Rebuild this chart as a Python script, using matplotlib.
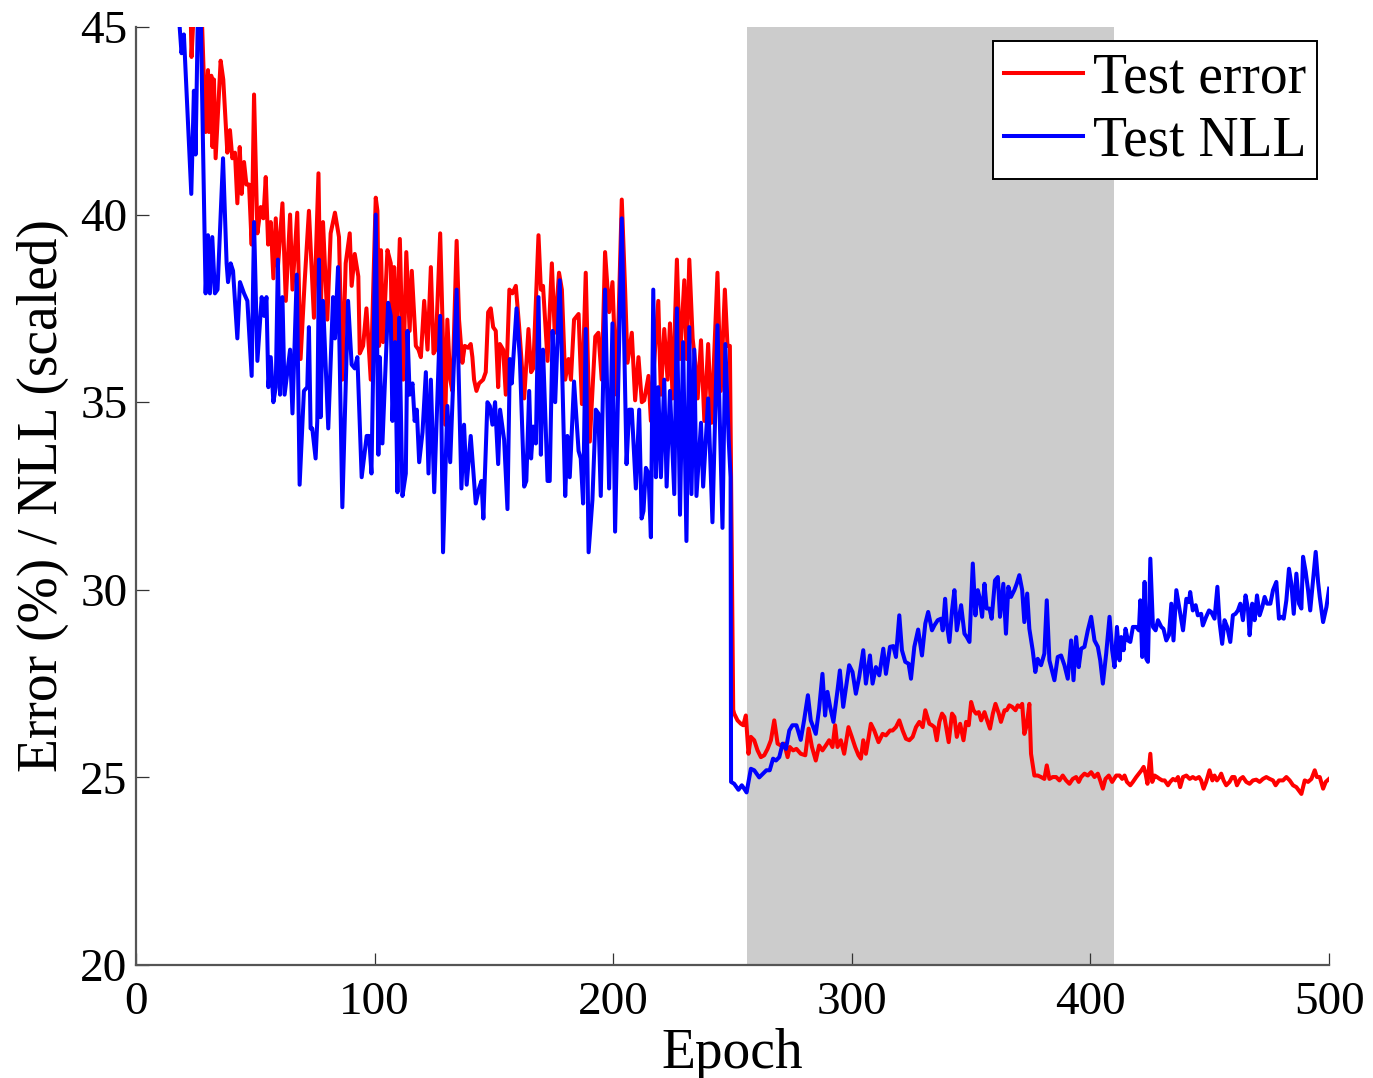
import matplotlib
matplotlib.use("Agg")
import matplotlib.pyplot as plt

# ---------------- data ----------------
err_epoch = [21.5, 22.9, 23.3, 24.3, 27.5, 29.2, 30.2, 30.6, 31.6, 32.1, 32.7, 33.4, 35.5, 36.6, 38.3, 39.4, 40.4, 41.5,
             42.5, 43.5, 44.3, 45.3, 46.3, 47.4, 48.5, 49.5, 50.9, 52.3, 53.4, 54.4, 55.4, 56.5, 57.6, 58.6, 59.5, 61.4,
             62.8, 64.6, 65.6, 67.6, 69.0, 70.7, 72.5, 74.6, 76.5, 77.4, 78.4, 80.2, 81.6, 83.4, 85.1, 86.5, 87.9, 89.6,
             90.4, 91.7, 93.2, 93.8, 95.2, 96.6, 98.4, 100.5, 101.2, 101.9, 102.7, 103.6, 105.4, 106.8, 107.5, 108.2,
             109.2, 110.6, 112.0, 113.3, 114.7, 115.6, 117.3, 118.4, 119.4, 120.8, 122.2, 123.6, 124.7, 125.6, 127.5,
             129.6, 130.5, 131.7, 132.6, 134.4, 135.4, 136.8, 137.8, 139.2, 140.3, 141.0, 141.7, 142.7, 143.8, 145.5,
             146.6, 147.6, 148.7, 149.7, 150.8, 151.8, 152.5, 153.9, 155.0, 156.5, 157.8, 159.2, 160.6, 162.7, 164.5,
             165.6, 166.5, 168.7, 169.7, 170.6, 172.5, 174.3, 175.5, 177.3, 178.5, 179.9, 181.3, 182.3, 183.6, 185.5,
             186.9, 188.5, 190.2, 192.5, 193.8, 195.2, 196.6, 198.3, 199.7, 201.4, 203.6, 205.0, 206.0, 207.8, 209.2,
             210.6, 212.0, 213.0, 214.8, 215.8, 216.8, 218.9, 220.0, 221.4, 222.8, 223.8, 224.9, 226.7, 228.0, 229.8,
             230.8, 231.9, 233.3, 234.4, 235.4, 236.8, 238.2, 239.8, 241.2, 243.7, 245.1, 246.8, 247.9, 248.9, 250.3,
             250.7, 252.1, 253.5, 254.5, 255.6, 256.7, 257.7, 259.1, 260.5, 261.9, 263.3, 264.7, 266.1, 267.5, 268.9,
             270.3, 271.7, 273.1, 274.0, 275.4, 276.8, 278.6, 280.5, 281.9, 283.3, 284.9, 286.3, 287.7, 289.1, 290.5,
             291.9, 293.0, 294.0, 295.4, 296.8, 298.6, 300.0, 301.4, 302.8, 303.8, 304.8, 305.9, 308.0, 309.4, 311.2,
             312.9, 314.3, 316.0, 317.1, 318.5, 319.9, 321.3, 322.7, 324.1, 325.5, 326.9, 328.3, 329.7, 330.8, 332.5,
             333.6, 334.6, 335.6, 336.7, 337.8, 338.8, 340.6, 342.0, 343.0, 344.0, 345.4, 346.8, 347.9, 349.0, 350.0,
             351.0, 352.1, 353.2, 354.2, 355.6, 356.5, 357.9, 359.1, 360.2, 361.6, 362.5, 364.0, 364.9, 366.0, 367.2,
             368.6, 369.5, 370.5, 371.4, 372.3, 373.3, 374.4, 375.1, 376.5, 377.9, 379.3, 380.7, 381.7, 382.8, 384.2,
             385.6, 387.0, 388.4, 389.8, 391.2, 392.6, 394.0, 395.1, 396.1, 397.5, 398.9, 400.3, 401.7, 403.1, 404.1,
             405.2, 406.3, 407.7, 409.1, 410.8, 412.2, 413.3, 414.3, 415.3, 416.7, 417.8, 419.2, 420.3, 421.4, 422.3,
             423.1, 423.9, 425.1, 425.9, 426.9, 427.9, 429.0, 430.1, 431.1, 432.5, 433.4, 434.6, 435.7, 436.7, 437.6,
             438.8, 440.2, 441.6, 442.9, 444.1, 445.5, 446.4, 447.4, 448.5, 449.9, 451.1, 452.0, 453.0, 454.1, 454.8,
             455.8, 456.9, 458.3, 459.4, 460.4, 461.4, 462.8, 463.9, 465.3, 466.7, 468.1, 469.5, 470.9, 472.3, 473.7,
             475.1, 476.5, 477.6, 479.0, 480.7, 482.1, 483.5, 484.9, 486.3, 488.4, 489.8, 491.2, 492.6, 494.0, 494.9,
             496.1, 497.5, 498.6, 500.0]
test_error = [46.5, 45.5, 44.2, 45.5, 45.5, 42.2, 43.85, 42.2, 43.7, 41.8, 43.6, 41.5, 44.1, 43.6, 41.65, 42.25, 41.5,
              41.65, 40.3, 41.8, 40.55, 41.4, 40.8, 40.8, 39.2, 43.2, 39.5, 40.2, 39.9, 41.0, 39.2, 39.8, 38.3, 39.9,
              38.6, 40.3, 37.7, 40.0, 38.0, 40.05, 36.15, 38.2, 40.1, 37.25, 41.1, 37.25, 39.8, 37.2, 39.5, 40.05, 39.4,
              35.6, 38.7, 39.5, 38.1, 38.95, 38.35, 36.3, 36.5, 37.5, 35.6, 40.45, 40.1, 36.5, 39.05, 36.6, 39.05, 38.7,
              35.6, 38.6, 36.6, 39.35, 35.6, 39.0, 36.9, 38.5, 36.5, 36.4, 36.2, 37.7, 36.4, 38.6, 36.3, 36.4, 39.5,
              34.4, 37.2, 35.6, 35.3, 39.3, 37.2, 36.05, 36.5, 36.45, 36.55, 36.2, 35.6, 35.3, 35.5, 35.6, 35.8, 37.4,
              37.5, 37.0, 36.9, 35.4, 36.55, 36.4, 35.2, 38.0, 37.9, 38.1, 37.0, 35.1, 36.95, 35.8, 35.9, 39.45, 38.0,
              38.1, 36.1, 38.7, 36.85, 38.45, 38.0, 35.6, 36.15, 35.6, 37.2, 37.35, 34.95, 38.45, 33.95, 36.75, 36.85,
              35.6, 39.0, 37.4, 38.2, 35.2, 40.4, 38.0, 36.05, 36.85, 35.05, 36.2, 35.0, 35.05, 35.7, 34.5, 35.7, 37.7,
              35.2, 36.95, 35.6, 37.1, 35.1, 38.8, 36.15, 38.25, 36.15, 38.8, 36.7, 36.05, 35.1, 36.65, 34.5, 36.55,
              34.45, 38.45, 35.3, 38.0, 36.5, 36.5, 26.8, 26.7, 26.52, 26.43, 26.39, 26.65, 25.63, 26.08, 25.99, 25.72,
              25.54, 25.59, 25.76, 25.99, 26.52, 25.9, 25.85, 25.9, 25.54, 25.81, 25.72, 25.76, 25.63, 25.59, 26.3,
              25.81, 25.45, 25.85, 25.72, 25.85, 25.99, 25.81, 26.39, 25.81, 25.99, 25.63, 26.34, 26.08, 25.81, 25.59,
              25.5, 25.99, 25.63, 26.43, 26.25, 25.94, 26.16, 26.12, 26.25, 26.25, 26.34, 26.52, 26.25, 26.03, 25.99,
              26.08, 26.34, 26.48, 26.34, 26.79, 26.43, 26.39, 26.34, 25.99, 26.48, 26.7, 26.61, 25.94, 26.7, 26.61,
              26.08, 26.43, 25.99, 26.48, 26.39, 27.01, 26.79, 26.7, 26.74, 26.52, 26.74, 26.56, 26.3, 26.7, 26.96,
              26.7, 26.48, 26.79, 26.79, 26.92, 26.88, 26.79, 26.92, 26.88, 26.96, 26.16, 26.39, 26.96, 25.63, 25.05,
              25.05, 25.01, 24.96, 25.32, 24.96, 25.01, 25.01, 24.92, 25.05, 24.92, 24.83, 24.96, 25.01, 24.88, 25.01,
              25.1, 25.05, 25.14, 25.01, 25.1, 24.92, 24.7, 24.96, 25.05, 24.88, 25.05, 25.05, 24.96, 25.05, 24.88,
              24.79, 24.88, 25.01, 25.1, 25.19, 25.28, 25.1, 24.83, 25.63, 24.88, 25.05, 25.01, 24.96, 24.92, 24.92,
              24.79, 24.88, 24.96, 24.92, 25.01, 24.74, 25.01, 25.05, 24.96, 25.01, 24.96, 25.01, 24.92, 24.7, 24.88,
              25.19, 24.92, 25.05, 24.92, 25.01, 25.1, 24.92, 24.79, 24.88, 25.01, 25.01, 24.79, 24.96, 25.01, 24.88,
              24.83, 24.92, 24.94, 24.88, 24.96, 25.01, 24.96, 24.92, 24.79, 24.92, 24.92, 25.01, 24.92, 24.79, 24.74,
              24.56, 24.92, 24.88, 24.96, 25.19, 25.01, 25.01, 24.7, 24.88, 24.96]

nll_epoch = [17.5, 18.0, 19.1, 20.1, 23.2, 24.3, 25.0, 26.0, 27.1, 29.2, 30.2, 31.0, 32.0, 33.1, 34.2, 36.5, 38.0, 38.6,
             39.7, 40.7, 42.5, 43.6, 45.3, 46.7, 48.5, 49.5, 50.9, 52.7, 53.7, 54.7, 55.5, 56.5, 57.6, 58.6, 59.5, 60.4,
             61.4, 62.3, 64.6, 65.6, 67.4, 68.6, 70.4, 71.8, 72.5, 73.2, 73.9, 75.3, 76.0, 76.7, 77.4, 78.4, 80.6, 82.6,
             83.4, 84.7, 86.5, 88.9, 90.4, 91.7, 92.8, 94.6, 96.7, 97.7, 98.7, 100.5, 101.6, 102.2, 103.3, 105.7, 106.8,
             107.5, 108.6, 109.6, 110.3, 111.7, 113.1, 113.8, 114.7, 115.9, 116.8, 117.7, 118.7, 120.1, 121.5, 122.6,
             123.6, 125.0, 127.5, 128.7, 130.5, 131.7, 134.4, 136.4, 137.5, 138.6, 140.3, 142.4, 143.8, 144.8, 145.6,
             147.3, 148.3, 149.4, 150.5, 151.8, 152.6, 154.3, 155.7, 156.7, 157.5, 159.5, 160.9, 162.7, 163.6, 164.8,
             165.6, 166.5, 167.6, 168.7, 169.7, 170.6, 172.5, 173.4, 174.6, 175.7, 177.6, 178.5, 179.9, 180.8, 181.8,
             183.6, 185.5, 186.4, 187.4, 188.5, 189.7, 191.3, 192.7, 193.8, 194.8, 196.6, 198.3, 199.7, 200.8, 203.6,
             205.6, 206.7, 207.8, 209.5, 210.9, 211.9, 212.7, 213.7, 214.8, 215.8, 216.8, 217.9, 218.9, 220.0, 221.4,
             222.4, 223.8, 225.6, 226.7, 228.0, 229.3, 230.7, 231.9, 232.8, 234.0, 234.9, 236.8, 237.7, 239.8, 241.6,
             243.7, 245.8, 247.0, 248.4, 249.2, 249.4, 250.7, 252.5, 253.9, 254.9, 255.9, 257.7, 259.1, 260.1, 261.2,
             262.8, 264.2, 265.6, 267.0, 268.2, 269.6, 271.0, 272.4, 273.8, 275.1, 276.8, 278.6, 280.0, 281.6, 282.8,
             284.9, 286.3, 287.7, 288.8, 289.8, 290.9, 292.3, 294.0, 295.0, 296.4, 298.9, 300.3, 301.7, 303.1, 304.8,
             305.9, 307.6, 308.7, 310.1, 311.5, 313.2, 314.3, 316.0, 317.4, 318.5, 319.9, 321.0, 322.4, 323.8, 324.8,
             326.2, 327.8, 329.4, 330.8, 332.0, 333.6, 334.6, 336.0, 337.4, 338.1, 339.1, 339.8, 340.9, 342.0, 343.0,
             344.0, 345.8, 347.2, 348.2, 349.3, 350.7, 351.8, 352.8, 353.5, 354.6, 355.6, 356.5, 357.7, 358.6, 360.0,
             361.2, 362.1, 363.5, 364.6, 365.6, 366.7, 368.1, 369.1, 370.2, 371.4, 372.3, 373.5, 374.4, 375.8, 376.9,
             377.9, 379.3, 380.7, 381.7, 382.8, 384.9, 386.3, 387.7, 389.1, 390.5, 391.9, 392.9, 394.0, 395.1, 396.1,
             397.5, 398.9, 400.3, 401.7, 403.1, 404.1, 405.2, 406.6, 408.0, 409.1, 410.1, 411.1, 412.2, 412.9, 413.9,
             414.7, 415.7, 416.7, 417.8, 419.2, 420.3, 420.9, 421.7, 422.7, 423.4, 424.1, 425.1, 426.2, 427.3, 428.3,
             429.7, 430.6, 431.8, 432.9, 433.9, 434.8, 436.0, 437.4, 438.8, 440.2, 441.3, 441.8, 442.9, 444.1, 445.0,
             446.4, 447.1, 448.5, 449.7, 450.6, 452.0, 453.2, 454.1, 455.2, 456.2, 457.3, 458.6, 459.7, 460.8, 461.8,
             462.8, 463.9, 465.0, 466.0, 466.7, 467.8, 468.8, 469.8, 470.9, 472.0, 473.0, 474.0, 475.4, 476.5, 477.9,
             479.0, 480.0, 481.0, 482.1, 483.2, 484.2, 485.2, 486.3, 487.4, 488.4, 489.1, 490.2, 491.2, 492.1, 493.3,
             494.4, 495.4, 496.1, 497.5, 498.9, 500.0]
test_nll = [46.5, 45.3, 44.3, 44.8, 40.55, 43.3, 41.6, 45.5, 45.5, 37.9, 39.45, 37.9, 39.4, 37.9, 38.0, 41.5, 38.7, 38.2,
            38.7, 38.5, 36.7, 38.2, 37.9, 37.7, 35.7, 39.8, 36.1, 37.8, 37.3, 37.8, 35.4, 36.2, 35.0, 35.4, 38.8, 35.2,
            37.8, 35.2, 36.4, 34.7, 38.4, 32.8, 35.3, 35.4, 37.0, 34.3, 34.3, 33.5, 34.5, 38.8, 34.6, 37.7, 34.3, 37.8,
            36.7, 38.6, 32.2, 37.7, 36.0, 35.9, 36.2, 33.0, 34.1, 34.1, 33.1, 40.0, 33.6, 36.2, 33.9, 37.65, 37.3, 34.5,
            36.6, 32.6, 37.25, 32.5, 33.1, 36.9, 35.2, 35.5, 34.5, 34.8, 33.4, 34.2, 35.8, 33.1, 35.6, 32.6, 37.3, 31.0,
            34.9, 33.4, 38.0, 32.7, 34.4, 32.8, 34.1, 32.3, 32.7, 32.9, 31.9, 35.0, 34.9, 34.4, 35.0, 33.35, 34.8, 34.0,
            32.15, 36.15, 35.5, 37.5, 36.15, 32.75, 32.9, 35.3, 33.5, 34.35, 33.9, 37.8, 33.6, 36.4, 32.9, 32.9, 36.9,
            35.0, 38.25, 36.15, 32.5, 34.1, 33.0, 35.55, 33.7, 33.5, 32.3, 36.95, 31.0, 32.4, 34.8, 34.7, 32.5, 38.0,
            32.7, 37.1, 31.55, 39.9, 33.35, 34.8, 34.8, 32.7, 34.8, 31.9, 32.1, 33.25, 33.1, 31.4, 38.0, 33.0, 35.4,
            33.0, 35.6, 32.75, 35.3, 32.55, 37.5, 32.0, 36.6, 31.3, 37.0, 32.55, 36.4, 32.5, 34.45, 32.75, 35.1, 31.8,
            37.05, 31.65, 36.55, 34.0, 33.0, 24.88, 24.83, 24.67, 24.79, 24.7, 24.6, 25.23, 25.19, 25.1, 25.0, 25.1,
            25.19, 25.19, 25.5, 25.45, 25.54, 25.9, 25.76, 26.25, 26.39, 26.39, 26.0, 26.52, 27.19, 26.52, 26.16,
            26.83, 27.76, 26.65, 27.28, 26.88, 26.48, 27.32, 27.85, 26.88, 27.99, 27.81, 27.23, 27.68, 28.39, 27.5,
            28.25, 27.5, 27.94, 27.72, 28.43, 27.76, 28.48, 28.5, 28.21, 29.32, 28.39, 28.08, 28.03, 27.63, 28.48,
            28.94, 28.25, 29.1, 29.41, 28.92, 29.05, 29.19, 29.23, 28.92, 29.76, 29.1, 28.61, 29.45, 29.99, 28.92,
            29.59, 28.83, 28.74, 28.61, 30.7, 29.32, 29.99, 29.81, 29.28, 30.16, 29.5, 29.5, 29.23, 30.25, 30.34,
            29.28, 30.16, 28.83, 30.08, 29.81, 29.99, 30.16, 30.39, 29.99, 29.14, 29.9, 28.96, 28.39, 27.81, 28.16,
            27.99, 28.3, 29.72, 28.12, 27.59, 28.21, 28.25, 27.99, 27.63, 28.65, 27.59, 28.74, 27.94, 28.43, 28.48,
            28.92, 29.28, 28.65, 28.48, 28.12, 27.5, 28.3, 29.28, 28.39, 27.94, 29.01, 28.12, 28.74, 28.39, 28.96,
            28.65, 28.61, 29.01, 29.01, 28.92, 29.72, 28.21, 30.21, 28.16, 28.08, 30.83, 29.01, 28.92, 29.19, 29.01,
            28.96, 28.65, 28.79, 29.63, 28.65, 29.99, 29.45, 28.92, 29.76, 29.67, 29.94, 29.45, 29.59, 29.32, 29.36,
            29.05, 29.28, 29.45, 29.41, 29.23, 30.08, 29.14, 28.56, 29.19, 29.01, 28.61, 29.32, 29.36, 29.45, 29.63,
            29.19, 29.85, 29.5, 28.79, 29.63, 29.19, 29.85, 29.32, 29.54, 29.81, 29.63, 29.63, 29.99, 30.21, 29.23,
            29.28, 29.23, 29.72, 30.56, 30.16, 29.36, 30.43, 29.63, 29.5, 30.88, 30.48, 29.99, 29.45, 30.25, 31.01,
            30.21, 29.81, 29.14, 29.54, 30.03]

shade_span = [256, 410]
x_ticks = [0, 100, 200, 300, 400, 500]
y_ticks = [20, 25, 30, 35, 40, 45]

# ---------------- plotting ----------------
plt.rcParams['font.family'] = ['Liberation Serif', 'DejaVu Serif']

fig = plt.figure(figsize=(13.73, 10.78), dpi=100)
ax = fig.add_axes([0.099, 0.1048, 0.869, 0.8702])

ax.axvspan(shade_span[0], shade_span[1], color='#cccccc', lw=0, zorder=0)
ax.plot(err_epoch, test_error, color='#ff0000', lw=2.9, label='Test error', zorder=2)
ax.plot(nll_epoch, test_nll, color='#0000ff', lw=2.9, label='Test NLL', zorder=3)

ax.set_xlim(0, 500)
ax.set_ylim(20, 45)
ax.set_xticks(x_ticks)
ax.set_yticks(y_ticks)
ax.tick_params(direction='in', length=9, width=0.9, color='#333333', labelsize=34, pad=6)
ax.tick_params(axis='x', pad=12)

for s in ['top', 'right']:
    ax.spines[s].set_visible(False)
for s in ['left', 'bottom']:
    ax.spines[s].set_color('#555555')
    ax.spines[s].set_linewidth(1.6)

ax.set_xlabel('Epoch', fontsize=40, labelpad=3)
ax.set_ylabel('Error (%) / NLL (scaled)', fontsize=40, labelpad=8)

leg = ax.legend(loc='upper right', bbox_to_anchor=(0.99, 0.985), fontsize=40,
                frameon=True, fancybox=False, edgecolor='black', framealpha=1,
                handlelength=1.42, handletextpad=0.18, labelspacing=0.21,
                borderpad=0.2, borderaxespad=0)
leg.get_frame().set_linewidth(1.4)

fig.savefig('out.png', dpi=100)
